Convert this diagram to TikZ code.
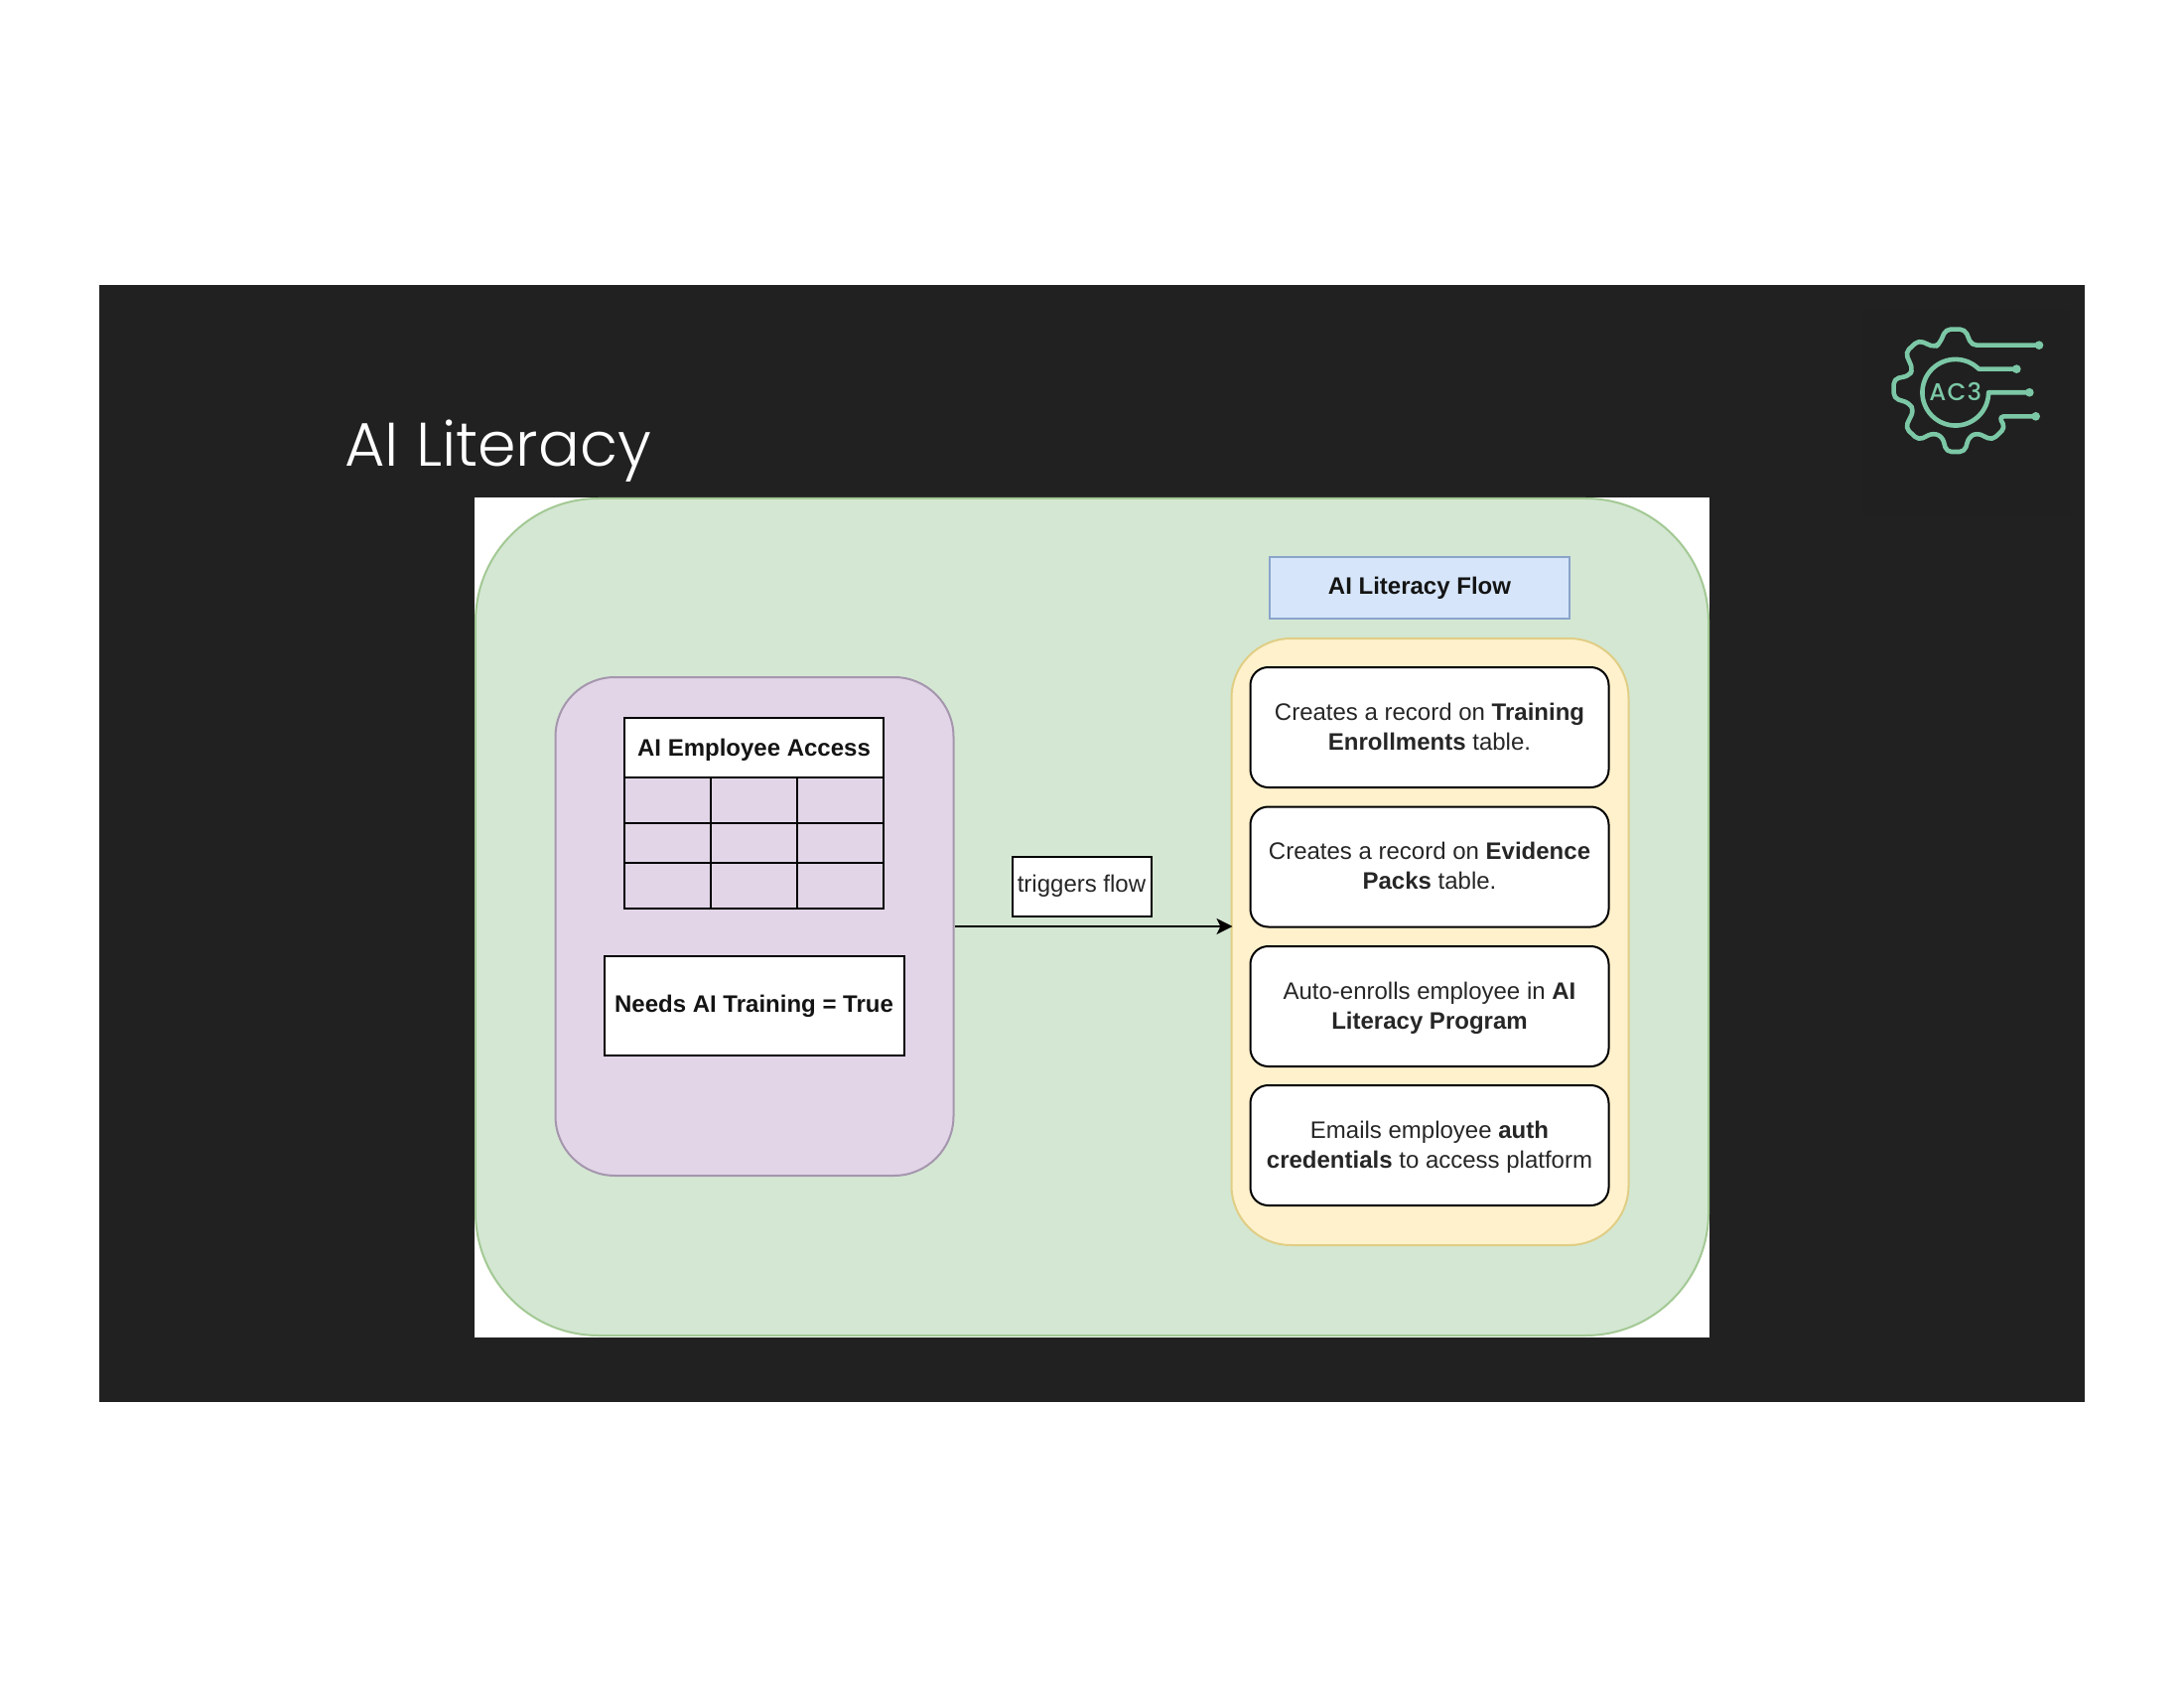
\documentclass[tikz,border=0pt]{standalone}
\usepackage{fontspec}
\setmainfont{Liberation Sans}
\newfontfamily\titlefont[UprightFont={* Light}]{Poppins}
\newfontfamily\logofont[LetterSpace=5,UprightFont={* Medium}]{Poppins}
\usetikzlibrary{arrows.meta}
\definecolor{panelbg}{HTML}{212121}
\definecolor{logobg}{HTML}{202020}
\definecolor{logogreen}{HTML}{7CC8A6}
\definecolor{outerfill}{HTML}{D4E7D3}
\definecolor{outerline}{HTML}{A3C994}
\definecolor{leftfill}{HTML}{E1D5E7}
\definecolor{leftline}{HTML}{A596AE}
\definecolor{flowfill}{HTML}{FFF1CC}
\definecolor{flowline}{HTML}{E0CE85}
\definecolor{headfill}{HTML}{D6E5F9}
\definecolor{headline}{HTML}{8AA4CA}
\newcommand{\stepline}[2]{\rule{0pt}{10.1pt}#1\\#2\rule[-2.6pt]{0pt}{0pt}}
\tikzset{
  sized/.style 2 args={minimum width=#1*0.5pt,minimum height=#2*0.5pt,inner sep=0pt,align=center},
  plainbox/.style={draw=black,fill=white,line width=1pt},
  stepbox/.style={plainbox,rounded corners=9pt,sized={361}{121}},
  bodytext/.style={font=\fontsize{12}{15}\selectfont,text=black!85},
  boldtext/.style={font=\fontsize{12}{15}\selectfont\bfseries,text=black!92},
  wire/.style={draw=logogreen,line width=2.3pt,line cap=round,line join=round}
}
\begin{document}
\begin{tikzpicture}[x=0.5pt,y=-0.5pt]
\path[use as bounding box,fill=white](0,0) rectangle (2200,1700);
\fill[panelbg](100,287.5) rectangle (2100,1412);
\fill[logobg](1877,312) rectangle (2085,520);
\fill[white](478,501) rectangle (1722,1347);
\node[text=white,font=\titlefont\fontsize{31}{36}\selectfont,anchor=base west,inner sep=0pt] (title) at (347,470) {AI Literacy};
% logo
\begin{scope}[shift={(1860,300)},scale=1/3]
\draw[wire,rounded corners=2.5pt](582,143)--(378,143)--(358,95)--(300,95)--(283,135)--(268,150)--(218,128)--(178,165)--(200,215)--(190,235)--(143,245)--(143,303)--(190,318)--(203,340)--(178,392)--(218,430)--(262,408)--(290,420)--(302,465)--(357,465)--(370,420)--(395,408)--(440,430)--(480,392)--(460,358)--(572,358);
\draw[wire](514,215)--(400,215) arc (-45:-360:100)--(553,285.7);
\foreach \px/\py in {582/143,514/215,553/285.7,572/358}{\fill[logogreen](\px,\py) circle (6.5pt);}
\node[text=logogreen,font=\logofont\fontsize{12.2}{14}\selectfont,inner sep=0pt] (logotext) at (329,283) {AC3};
\end{scope}
% outer containers
\node[draw=outerline,fill=outerfill,line width=1pt,rounded corners=62pt,sized={1242}{843}] (outer) at (1100,923.5) {};
\node[draw=leftline,fill=leftfill,line width=1pt,rounded corners=30pt,sized={401}{502}] (source) at (760,933) {};
\node[draw=flowline,fill=flowfill,line width=1pt,rounded corners=30pt,sized={400}{611}] (flow) at (1440.5,948.5) {};
% table
\node[plainbox,sized={261}{60},boldtext,text height=9.5pt,text depth=0.7pt] (access) at (759.5,752.5) {AI Employee Access};
\draw[line width=1pt](629,782.5) rectangle (890,915);
\foreach \yy in {829,869}{\draw[line width=1pt](629,\yy)--(890,\yy);}
\foreach \xx in {715.5,803}{\draw[line width=1pt](\xx,782.5)--(\xx,915);}
\node[plainbox,sized={302}{100},boldtext] (needs) at (759.5,1013) {Needs AI Training = True};
% flow side
\node[draw=headline,fill=headfill,line width=1pt,sized={301.5}{61},boldtext] (flowtitle) at (1430,592) {AI Literacy Flow};
\node[stepbox,bodytext] (enroll) at (1440,732.5) {\stepline{Creates a record on \textbf{Training}}{\textbf{Enrollments} table.}};
\node[stepbox,bodytext] (packs) at (1440,873) {\stepline{Creates a record on \textbf{Evidence}}{\textbf{Packs} table.}};
\node[stepbox,bodytext] (program) at (1440,1013.5) {\stepline{Auto-enrolls employee in \textbf{AI}}{\textbf{Literacy Program}}};
\node[stepbox,bodytext] (mail) at (1440,1153.5) {\stepline{Emails employee \textbf{auth}}{\textbf{credentials} to access platform}};
% trigger
\node[plainbox,sized={140}{60},bodytext] (trigger) at (1089.5,892.5) {triggers flow};
\draw[line width=1pt,shorten >=-1pt,-{Stealth[length=8pt,width=8pt,inset=2pt]}](source.east)--(source.east -| flow.west);
\end{tikzpicture}
\end{document}
